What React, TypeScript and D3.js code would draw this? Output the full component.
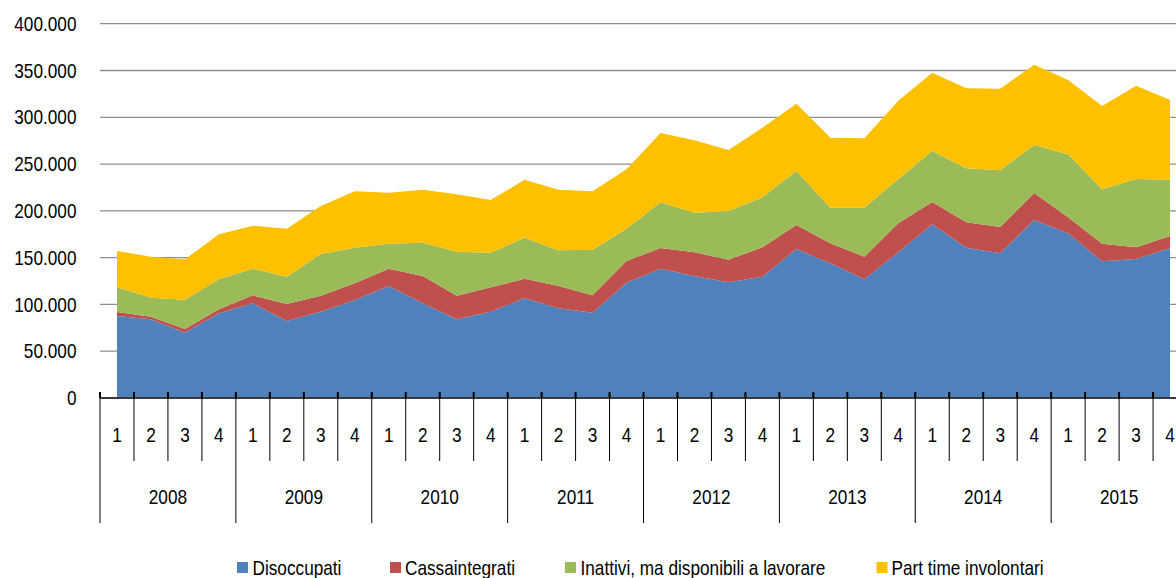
import React from "react";
import * as d3 from "d3";

const years = ["2008", "2009", "2010", "2011", "2012", "2013", "2014", "2015"];
const quarterLabels = ["1", "2", "3", "4"];
const seriesNames = [
  "Disoccupati",
  "Cassaintegrati",
  "Inattivi, ma disponibili a lavorare",
  "Part time involontari",
];
const seriesColors = ["#4F81BD", "#C0504D", "#9BBB59", "#FFC000"];

const disoccupati = [
  87600, 84100, 69800, 90500, 101200, 82300, 92200, 104700,
  119700, 101200, 84100, 92200, 106500, 95800, 91200, 123200,
  138200, 130400, 123600, 129700, 159200, 143900, 126800, 155700,
  185600, 160600, 154600, 190200, 176000, 146100, 148600, 160000,
];
const cassaintegrati = [
  4300, 2800, 3900, 4300, 8500, 18200, 17100, 17900,
  18500, 29200, 25200, 26100, 21000, 23900, 18500, 23200,
  22100, 25300, 24200, 31300, 25700, 21400, 24200, 31000,
  23900, 27200, 28100, 28900, 17100, 18800, 12400, 13100,
];
const inattivi = [
  26400, 20300, 31300, 32000, 28500, 29100, 44600, 38000,
  26700, 35600, 47100, 37000, 43800, 38100, 48800, 34500,
  48800, 42400, 52000, 53500, 57700, 38100, 52400, 47300,
  54500, 57700, 60600, 51300, 67300, 58100, 73000, 60200,
];
const partTime = [
  38800, 43800, 43200, 48100, 45900, 51300, 51300, 60300,
  54500, 56600, 61300, 56300, 62000, 64800, 62400, 63500,
  74100, 77300, 65200, 74200, 71900, 74800, 74100, 83700,
  83700, 85500, 87300, 85800, 79500, 89000, 99800, 85200,
];
const yTicks = [0, 50000, 100000, 150000, 200000, 250000, 300000, 350000, 400000];

const W = 1176;
const H = 578;
const FONT = "'Liberation Sans', Arial, sans-serif";
const SX = 0.82;

const itFormat = d3
  .formatLocale({ decimal: ",", thousands: ".", grouping: [3], currency: ["€", ""] })
  .format(",d");

function NText(props: { x: number; y: number; anchor?: string; children: React.ReactNode }) {
  return (
    <text
      transform={`translate(${props.x},${props.y}) scale(${SX},1)`}
      textAnchor={props.anchor || "start"}
      fontSize={21}
      fill="#000"
    >
      {props.children}
    </text>
  );
}

export default function App() {
  const n = disoccupati.length;
  const step = 33.97;
  const x = d3.scaleLinear().domain([0, n]).range([100, 100 + n * step]);
  const y = d3.scaleLinear().domain([0, 400000]).range([398, 23.7]);

  const keys = ["a", "b", "c", "d"];
  const rows = disoccupati.map((_, i) => ({
    i,
    a: disoccupati[i],
    b: cassaintegrati[i],
    c: inattivi[i],
    d: partTime[i],
  }));
  const stacked = d3.stack<any>().keys(keys)(rows);
  const area = d3
    .area<any>()
    .x((d) => x(d.data.i + 0.5))
    .y0((d) => y(d[0]))
    .y1((d) => y(d[1]));

  const axisY = y(0);
  const legendItems = [
    { sq: 237, tx: 252.5 },
    { sq: 390, tx: 405 },
    { sq: 565, tx: 580.5 },
    { sq: 876.5, tx: 891.5 },
  ];

  return (
    <svg
      width={W}
      height={H}
      style={{ position: "absolute", left: 0, top: 0, display: "block", background: "#fff" }}
      fontFamily={FONT}
    >
      {yTicks.slice(1).map((t) => (
        <line key={t} x1={100} x2={W} y1={y(t)} y2={y(t)} stroke="#8e8e8e" strokeWidth={1.3} />
      ))}
      {stacked.map((s, k) => (
        <path key={k} d={area(s) || ""} fill={seriesColors[k]} />
      ))}
      {yTicks.map((t) => (
        <NText key={t} x={76.5} y={y(t) + 7.2} anchor="end">
          {itFormat(t)}
        </NText>
      ))}
      <line x1={100} x2={W} y1={axisY} y2={axisY} stroke="#3a3a3a" strokeWidth={2} />
      {d3.range(n).map((i) => (
        <line
          key={"t" + i}
          x1={x(i)}
          x2={x(i)}
          y1={axisY - 6}
          y2={i % 4 === 0 ? 523 : 461}
          stroke="#000"
          strokeWidth={1}
        />
      ))}
      {d3.range(n).map((i) => (
        <line key={"tt" + i} x1={x(i)} x2={x(i)} y1={axisY - 6} y2={axisY} stroke="#000" strokeWidth={2} />
      ))}
      {d3.range(n).map((i) => (
        <NText key={"q" + i} x={x(i + 0.5)} y={441.5} anchor="middle">
          {quarterLabels[i % 4]}
        </NText>
      ))}
      {years.map((yr, j) => (
        <NText key={yr} x={x(j * 4 + 2)} y={504} anchor="middle">
          {yr}
        </NText>
      ))}
      {seriesNames.map((name, k) => (
        <g key={name}>
          <rect x={legendItems[k].sq} y={562} width={11} height={11} fill={seriesColors[k]} />
          <NText x={legendItems[k].tx} y={575}>
            {name}
          </NText>
        </g>
      ))}
    </svg>
  );
}
